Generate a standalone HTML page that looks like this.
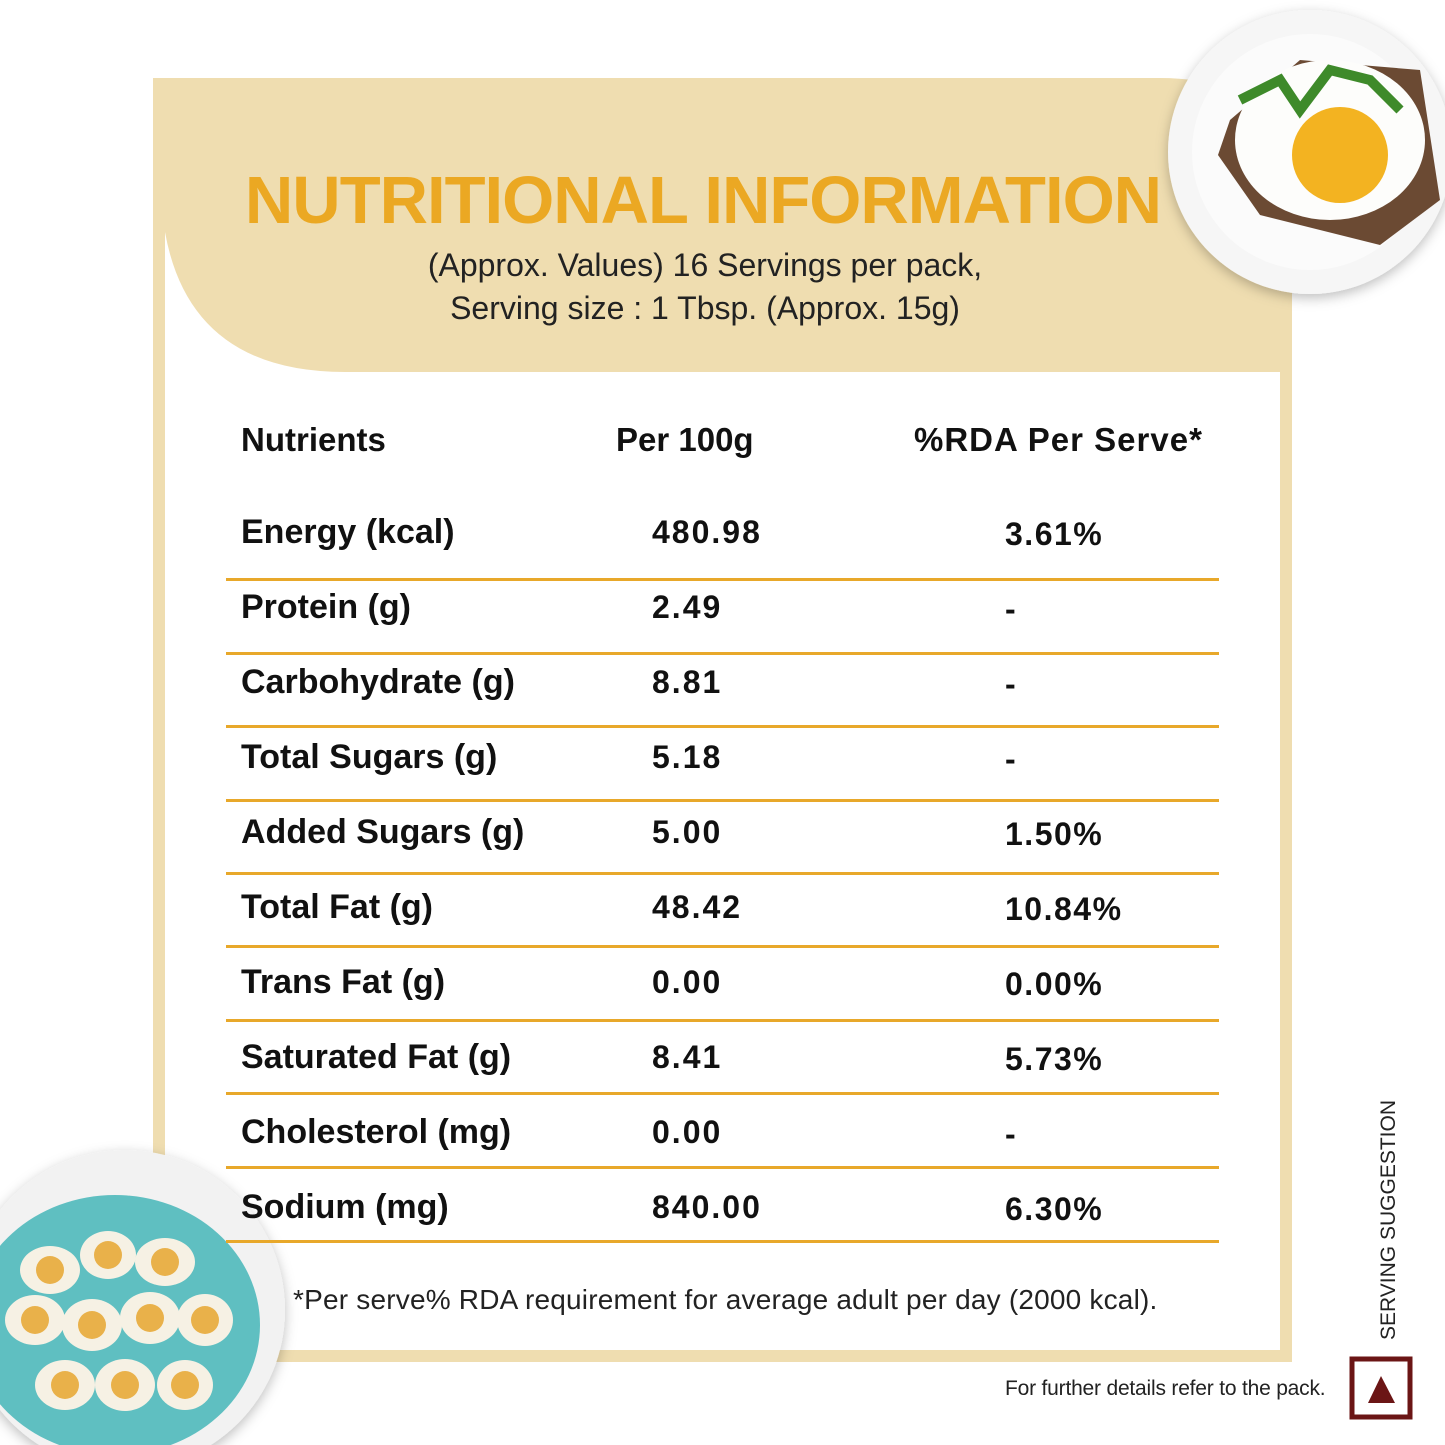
<!DOCTYPE html>
<html><head><style>
body{margin:0;width:1445px;height:1445px;background:#fff;position:relative;overflow:hidden;font-family:"Liberation Sans",sans-serif}
.a{position:absolute}
.row{position:absolute;left:241px;font-size:34px;color:#111;font-weight:bold;white-space:nowrap}
.v{position:absolute;left:652px;font-size:32px;font-weight:bold;color:#111;letter-spacing:2px}
.r{position:absolute;left:1005px;font-size:32px;font-weight:bold;color:#111;letter-spacing:1.5px}
.ln{position:absolute;left:226px;width:993px;height:3px;background:#E8A82A}
</style></head><body>
<svg class="a" style="left:0;top:0" width="1445" height="1445">
<rect x="153" y="78" width="1139" height="1284" fill="#EFDDB0"/>
<path d="M1160 78 Q1292 78 1292 200 L1292 78 Z" fill="#fff"/>
<path d="M165 232 Q190 372 345 372 L1280 372 L1280 1350 L165 1350 Z" fill="#fff"/>
<defs><filter id="s"><feDropShadow dx="0" dy="4" stdDeviation="6" flood-opacity="0.25"/></filter></defs>
<circle cx="1310" cy="152" r="142" fill="#f6f6f6" filter="url(#s)"/>
<circle cx="1310" cy="152" r="118" fill="#fbfbfb"/>
<path d="M1230 120 L1300 60 L1420 70 L1440 200 L1380 245 L1260 215 L1218 155 Z" fill="#6b4a33"/>
<ellipse cx="1330" cy="140" rx="95" ry="80" fill="#fdfdfb"/>
<circle cx="1340" cy="155" r="48" fill="#F3B321"/>
<path d="M1240 100 l40 -20 l20 30 l30 -40 l40 10 l30 30" stroke="#3e8a2a" stroke-width="10" fill="none"/>
<circle cx="125" cy="1310" r="160" fill="#f2f2f2" filter="url(#s)"/>
<ellipse cx="115" cy="1325" rx="145" ry="130" fill="#5FBFC1"/>
<g fill="#f6f1e4">
<ellipse cx="50" cy="1270" rx="30" ry="24"/><ellipse cx="108" cy="1255" rx="28" ry="24"/><ellipse cx="165" cy="1262" rx="30" ry="24"/>
<ellipse cx="35" cy="1320" rx="30" ry="25"/><ellipse cx="92" cy="1325" rx="30" ry="26"/><ellipse cx="150" cy="1318" rx="30" ry="26"/><ellipse cx="205" cy="1320" rx="28" ry="26"/>
<ellipse cx="65" cy="1385" rx="30" ry="25"/><ellipse cx="125" cy="1385" rx="30" ry="26"/><ellipse cx="185" cy="1385" rx="28" ry="25"/>
</g>
<g fill="#E9B14A">
<circle cx="50" cy="1270" r="14"/><circle cx="108" cy="1255" r="14"/><circle cx="165" cy="1262" r="14"/>
<circle cx="35" cy="1320" r="14"/><circle cx="92" cy="1325" r="14"/><circle cx="150" cy="1318" r="14"/><circle cx="205" cy="1320" r="14"/>
<circle cx="65" cy="1385" r="14"/><circle cx="125" cy="1385" r="14"/><circle cx="185" cy="1385" r="14"/>
</g>
<rect x="1352" y="1359" width="58" height="58" fill="none" stroke="#6B1515" stroke-width="5"/>
<polygon points="1381,1376 1368,1403 1395,1403" fill="#6B1515"/>
<text x="0" y="0" transform="translate(1395,1340) rotate(-90)" font-family="Liberation Sans,sans-serif" font-size="21" fill="#222">SERVING SUGGESTION</text>
</svg>
<div class="a" style="left:0;width:1406px;text-align:center;top:162px;font-size:67px;font-weight:bold;color:#EBA823;letter-spacing:-1px">NUTRITIONAL INFORMATION</div>
<div class="a" style="left:0;width:1410px;text-align:center;top:244px;font-size:32px;line-height:43px;color:#222">(Approx. Values) 16 Servings per pack,<br>Serving size : 1 Tbsp. (Approx. 15g)</div>
<div class="row" style="top:421px;font-size:33px">Nutrients</div>
<div class="row" style="top:421px;left:616px;font-size:33px">Per 100g</div>
<div class="row" style="top:421px;left:914px;font-size:33px;letter-spacing:1px">%RDA Per Serve*</div>
<div class="row" style="top:513px">Energy (kcal)</div><div class="v" style="top:514px">480.98</div><div class="r" style="top:516px">3.61%</div>
<div class="ln" style="top:578px"></div>
<div class="row" style="top:588px">Protein (g)</div><div class="v" style="top:589px">2.49</div><div class="r" style="top:591px">-</div>
<div class="ln" style="top:652px"></div>
<div class="row" style="top:663px">Carbohydrate (g)</div><div class="v" style="top:664px">8.81</div><div class="r" style="top:666px">-</div>
<div class="ln" style="top:725px"></div>
<div class="row" style="top:738px">Total Sugars (g)</div><div class="v" style="top:739px">5.18</div><div class="r" style="top:741px">-</div>
<div class="ln" style="top:799px"></div>
<div class="row" style="top:813px">Added Sugars (g)</div><div class="v" style="top:814px">5.00</div><div class="r" style="top:816px">1.50%</div>
<div class="ln" style="top:872px"></div>
<div class="row" style="top:888px">Total Fat (g)</div><div class="v" style="top:889px">48.42</div><div class="r" style="top:891px">10.84%</div>
<div class="ln" style="top:945px"></div>
<div class="row" style="top:963px">Trans Fat (g)</div><div class="v" style="top:964px">0.00</div><div class="r" style="top:966px">0.00%</div>
<div class="ln" style="top:1019px"></div>
<div class="row" style="top:1038px">Saturated Fat (g)</div><div class="v" style="top:1039px">8.41</div><div class="r" style="top:1041px">5.73%</div>
<div class="ln" style="top:1092px"></div>
<div class="row" style="top:1113px">Cholesterol (mg)</div><div class="v" style="top:1114px">0.00</div><div class="r" style="top:1116px">-</div>
<div class="ln" style="top:1166px"></div>
<div class="row" style="top:1188px">Sodium (mg)</div><div class="v" style="top:1189px">840.00</div><div class="r" style="top:1191px">6.30%</div>
<div class="ln" style="top:1240px"></div>
<div class="a" style="left:293px;top:1284px;font-size:28px;color:#222;letter-spacing:0.2px">*Per serve% RDA requirement for average adult per day (2000 kcal).</div>
<div class="a" style="left:1005px;top:1377px;font-size:21px;color:#222;letter-spacing:-0.2px">For further details refer to the pack.</div>
</body></html>
